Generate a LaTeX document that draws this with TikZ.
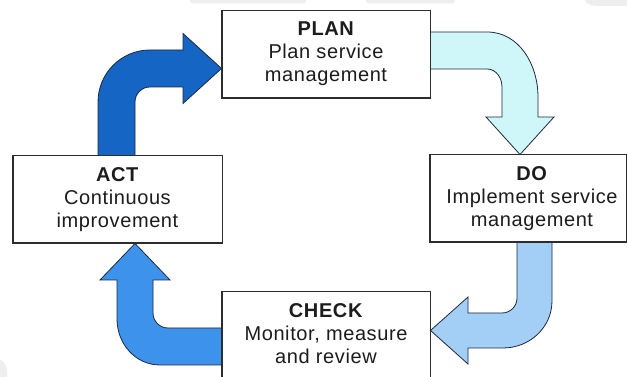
\documentclass[tikz,border=0pt]{standalone}
\usepackage{fontspec}
\setmainfont{Liberation Sans}[LetterSpace=3]
\begin{document}
\begin{tikzpicture}[x=1pt,y=1pt,
  stagebox/.style={draw={rgb,255:red,45;green,45;blue,45}, line width=1pt, fill=white,
    rectangle, inner sep=0pt, minimum height=87pt},
  stagetext/.style={align=center, inner sep=0pt, anchor=north,
    font=\fontsize{20}{23}\selectfont, text={rgb,255:red,28;green,28;blue,28}},
  bentarrow/.style={draw={rgb,255:red,30;green,40;blue,60}, line width=0.8pt, line join=miter},
  faint/.style={fill={rgb,255:red,238;green,238;blue,238}, draw=none}]
\definecolor{actblue}{RGB}{21,101,196}
\definecolor{checkblue}{RGB}{61,147,235}
\definecolor{doblue}{RGB}{163,207,247}
\definecolor{plancyan}{RGB}{207,247,250}

\useasboundingbox (0,0) rectangle (627,377);
\clip (0,0) rectangle (627,377);
\fill[white] (0,0) rectangle (627,377);

% faint background shapes along the edges
\fill[faint, rounded corners=3pt] (190,373.5) rectangle (306,382);
\fill[faint, rounded corners=3pt] (366,373.5) rectangle (455,382);
\fill[faint] (583,382) to[out=-90,in=180] (596,371) -- (630,371) -- (630,382) -- cycle;
\fill[faint] (-3,0) -- (-3,18) to[out=0,in=90] (7,6) -- (7,0) -- cycle;

% stage boxes
\node[stagebox, minimum width=208pt] (plan)  at (326,322.5) {};
\node[stagebox, minimum width=209pt] (act)   at (117.5,177.5) {};
\node[stagebox, minimum width=196pt] (do)    at (528,178.5) {};
\node[stagebox, minimum width=208pt] (check) at (326,41.5) {};

% ACT -> PLAN
\draw[bentarrow, fill=actblue]
  (act.north -| 98,0) -- (98,275) to[out=90,in=180] (150,327) -- (183,327)
  -- (183,343.5) -- (plan.west |- 0,308.5) -- (183,273.5) -- (183,290)
  -- (150,290) to[out=180,in=90] (135,275) -- (act.north -| 135,0) -- cycle;

% PLAN -> DO
\draw[bentarrow, fill=plancyan]
  (plan.east |- 0,345) -- (487,345) to[out=0,in=90] (538,280) -- (538,260)
  -- (554,260) -- (do.north -| 520,0) -- (486,260) -- (502,260)
  -- (502,290) to[out=90,in=0] (487,308) -- (plan.east |- 0,308) -- cycle;

% DO -> CHECK
\draw[bentarrow, fill=doblue]
  (do.south -| 517,0) -- (517,79) to[out=-90,in=0] (502,64) -- (468,64)
  -- (468,80) -- (check.east |- 0,46.5) -- (468,13) -- (468,29)
  -- (503,29) to[out=0,in=-90] (552,76) -- (do.south -| 552,0) -- cycle;

% CHECK -> ACT
\draw[bentarrow, fill=checkblue]
  (check.west |- 0,49) -- (168,49) to[out=180,in=-90] (153,64) -- (153,97)
  -- (170,97) -- (act.south -| 135,0) -- (100,97) -- (117,97)
  -- (117,58) to[out=-90,in=180] (160,12) -- (check.west |- 0,12) -- cycle;

% redraw box outlines over the arrow ends
\draw[draw={rgb,255:red,45;green,45;blue,45}, line width=1pt]
  (plan.south west) rectangle (plan.north east)
  (act.south west) rectangle (act.north east)
  (do.south west) rectangle (do.north east)
  (check.south west) rectangle (check.north east);

% stage labels
\node[stagetext] (plantext)  at ([yshift=-11.5pt]plan.north)
  {\textbf{PLAN}\\Plan service\\management};
\node[stagetext] (acttext)   at ([yshift=-11.5pt]act.north)
  {\textbf{ACT}\\Continuous\\improvement};
\node[stagetext] (dotext)    at ([xshift=4pt,yshift=-11.5pt]do.north)
  {\textbf{DO}\\Implement service\\management};
\node[stagetext] (checktext) at ([yshift=-11.5pt]check.north)
  {\textbf{CHECK}\\Monitor, measure\\and review};
\end{tikzpicture}
\end{document}
